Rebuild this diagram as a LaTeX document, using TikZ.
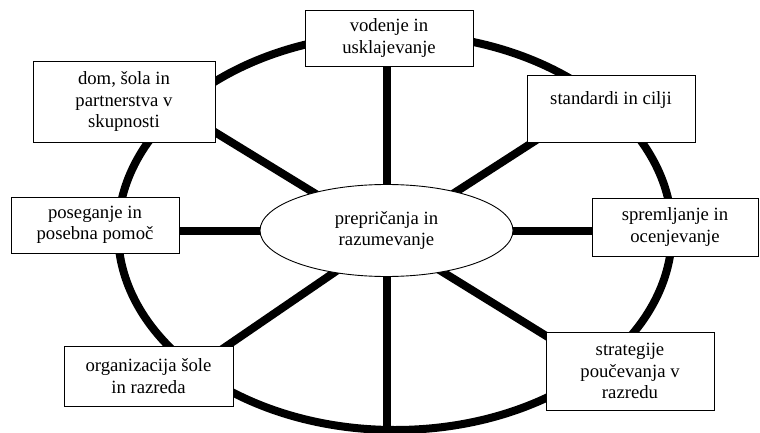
\documentclass[tikz,border=0pt]{standalone}
\usepackage{fontspec}
\setmainfont{Liberation Serif}
\usetikzlibrary{backgrounds,calc,shapes.geometric}
\begin{document}
\begin{tikzpicture}[x=1pt,y=-1pt,
  txt/.style={font=\fontsize{18.7}{21.5}\selectfont},
  box/.style={draw, fill=white, line width=0.9pt, align=center, inner sep=0pt, txt},
  spoke/.style={line width=8pt, line cap=butt},
  ring/.style={line width=8pt}]
\useasboundingbox (0,0) rectangle (760,433);
\node[box, minimum width=168, minimum height=56] (vod) at (389,38) {vodenje in\\usklajevanje};
\node[box, minimum width=182, minimum height=81] (dom) at (124,101.5) {dom, šola in\\partnerstva v\\skupnosti};
\node[box, minimum width=168, minimum height=67] (std) at (611,108.5) {standardi in cilji\\\mbox{}};
\node[box, minimum width=168, minimum height=56] (pos) at (95,225) {poseganje in\\posebna pomoč};
\node[box, minimum width=166, minimum height=58] (spr) at (675,227) {spremljanje in\\ocenjevanje};
\node[box, minimum width=169, minimum height=60] (org) at (148.5,376) {organizacija šole\\in razreda};
\node[box, minimum width=168, minimum height=78] (str) at (630,371) {strategije\\poučevanja v\\razredu};
\node[draw, fill=white, ellipse, line width=0.9pt, minimum width=253, minimum height=92, inner sep=0pt, align=center, txt] (ell) at (386.5,230.5) {prepričanja in\\razumevanje};
\begin{scope}[on background layer]
  \coordinate (hub) at (386,237);
  \coordinate (rb) at (386.5,429);
  \draw[ring] (395,232) ellipse [x radius=277pt, y radius=198pt];
  \draw[spoke] (ell.center) -- (ell.center |- vod.center);
  \draw[spoke] (ell.center) -- (rb);
  \draw[spoke] (ell.center) -- (ell.center -| pos.center);
  \draw[spoke] (ell.center) -- (ell.center -| spr.center);
  \draw[spoke] (hub) -- ($(hub)!1.15!([yshift=10pt]dom.south east)$);
  \draw[spoke] (hub) -- ($(hub)!1.15!([xshift=6pt]std.south west)$);
  \draw[spoke] (hub) -- ($(hub)!1.15!([xshift=-6pt]org.north east)$);
  \draw[spoke] (hub) -- ($(hub)!1.15!([yshift=-4pt]str.north west)$);
\end{scope}
\end{tikzpicture}
\end{document}
